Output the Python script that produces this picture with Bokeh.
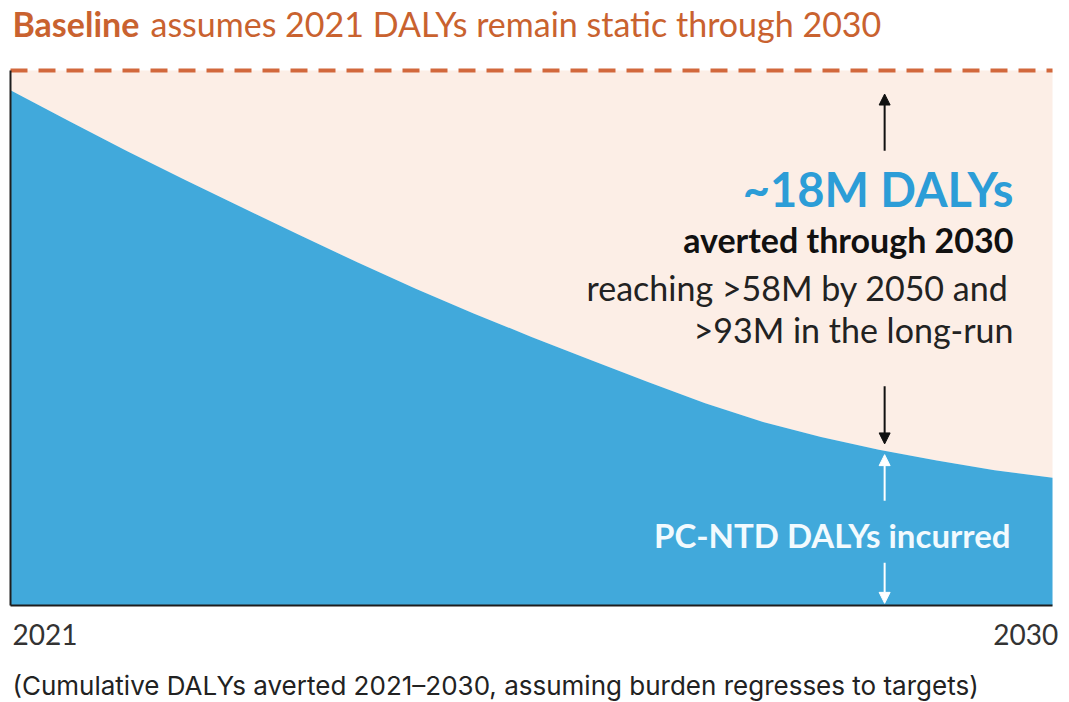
from bokeh.plotting import figure
from bokeh.models import Label, Arrow, NormalHead, FixedTicker, Range1d
from bokeh.embed import file_html
from bokeh.resources import INLINE

# ---- data (index: 2021 DALYs = 100) ----
time_points = [2021.0, 2021.5, 2022.0, 2022.5, 2023.0, 2023.5, 2024.0, 2024.5,
               2025.0, 2025.5, 2026.0, 2026.5, 2027.0, 2027.5, 2028.0, 2028.5,
               2029.0, 2029.5, 2030.0]
dalys_incurred = [96.3, 90.6, 85.0, 79.6, 74.4, 69.2, 64.1, 59.2, 54.6, 50.2,
                  46.0, 41.8, 37.8, 34.3, 31.5, 29.1, 27.1, 25.3, 23.9]
baseline_value = 100.0
baseline = [baseline_value] * len(time_points)
tick_labels = ["2021", "2030"]

title_bold = "Baseline"
title_rest = "assumes 2021 DALYs remain static through 2030"
headline = "~18M DALYs"
sub1 = "averted through 2030"
sub2 = "reaching >58M by 2050 and"
sub3 = ">93M in the long-run"
area_label = "PC-NTD DALYs incurred"
caption = "(Cumulative DALYs averted 2021\u20132030, assuming burden regresses to targets)"

BLUE = "#41A9DB"
PINK = "#FCEEE6"
ORANGE = "#C9622F"
FONT = "Lato"

x0, x1 = time_points[0], time_points[-1]

p = figure(width=1064, height=702,
           x_range=Range1d(2020.9136, 2030.1035), y_range=Range1d(-18.13, 113.08),
           output_backend="svg", toolbar_location=None,
           min_border_left=0, min_border_right=0, min_border_top=0, min_border_bottom=0)
p.background_fill_color = "white"
p.border_fill_color = "white"
p.outline_line_color = None
p.grid.visible = False
for ax in (p.xaxis, p.yaxis):
    ax.ticker = FixedTicker(ticks=[])
    ax.major_tick_out = 0
    ax.major_tick_in = 0
    ax.minor_tick_out = 0
    ax.minor_tick_in = 0
    ax.major_label_standoff = 0
    ax.axis_line_color = "#1e1e1e"
    ax.axis_line_width = 2
p.xaxis.fixed_location = 0
p.xaxis.bounds = (x0, x1)
p.yaxis.fixed_location = x0
p.yaxis.bounds = (0, baseline_value)

# averted area (pink) and incurred area (blue)
p.varea(x=time_points, y1=dalys_incurred, y2=baseline, fill_color=PINK)
p.varea(x=time_points, y1=0, y2=dalys_incurred, fill_color=BLUE)
p.line(x=time_points, y=baseline, line_color="#D2683C", line_width=4, line_dash="17 11")

p.xaxis.level = "overlay"
p.yaxis.level = "overlay"

# arrows
ax_x = 2028.55
p.add_layout(Arrow(end=NormalHead(size=11, fill_color="#111111", line_color="#111111"),
                   x_start=ax_x, y_start=85.0, x_end=ax_x, y_end=95.6,
                   line_color="#111111", line_width=2))
p.add_layout(Arrow(end=NormalHead(size=11, fill_color="#111111", line_color="#111111"),
                   x_start=ax_x, y_start=41.0, x_end=ax_x, y_end=30.2,
                   line_color="#111111", line_width=2))
p.add_layout(Arrow(end=NormalHead(size=11, fill_color="white", line_color="white"),
                   x_start=ax_x, y_start=19.6, x_end=ax_x, y_end=28.2,
                   line_color="white", line_width=2))
p.add_layout(Arrow(end=NormalHead(size=11, fill_color="white", line_color="white"),
                   x_start=ax_x, y_start=8.0, x_end=ax_x, y_end=0.4,
                   line_color="white", line_width=2))

def lab(text, x, y, size, color="#1a1a1a", style="normal", align="right", font=FONT):
    p.add_layout(Label(x=x, y=y, text=text, text_font=font, text_font_size=size,
                       text_color=color, text_font_style=style, text_align=align,
                       text_baseline="alphabetic"))

# title
lab(title_bold, 2021.017, 108.7, "34px", ORANGE, "bold", "left")
lab(title_rest, 2022.209, 108.7, "34px", ORANGE, "normal", "left")

# annotations
lab(headline, 2029.663, 77.9, "47px", "#2C9DD7", "bold")
lab(sub1, 2029.663, 68.5, "34px", "#111111", "bold")
lab(sub2, 2029.62, 59.5, "34px", "#222222")
lab(sub3, 2029.663, 51.5, "34px", "#222222")
lab(area_label, 2029.637, 13.1, "33px", "#F2FAFE", "bold")

# tick labels
lab(tick_labels[0], 2021.017, -5.5, "28px", "#333333", "normal", "left")
lab(tick_labels[1], 2030.05, -5.5, "28px", "#333333", "normal", "right")

# caption
lab(caption, 2021.017, -15.0, "26px", "#222222", "normal", "left", "Inter")

open("out.html", "w").write(file_html(p, INLINE))
